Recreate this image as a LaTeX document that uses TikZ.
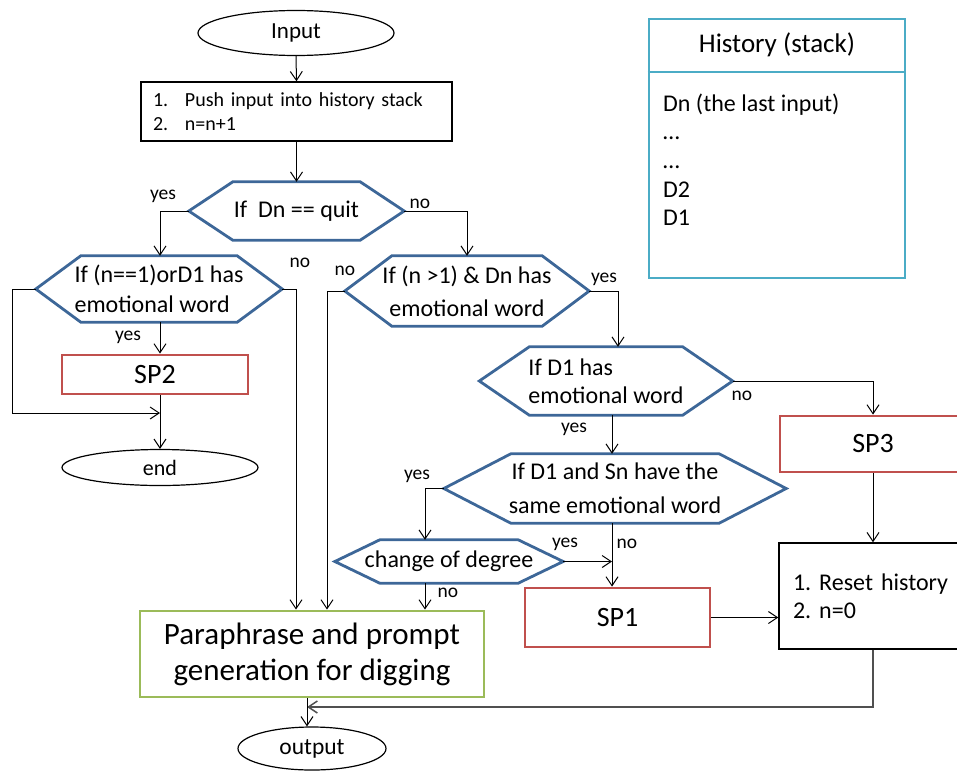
\documentclass[tikz,border=0pt]{standalone}
\usepackage{fontspec}
\setmainfont{Carlito}
\usetikzlibrary{arrows.meta,shapes.geometric}

\definecolor{hexblue}{HTML}{3D6798}
\definecolor{spred}{HTML}{C0504D}
\definecolor{gengreen}{HTML}{9BBB59}
\definecolor{histcyan}{HTML}{4BACC6}
\definecolor{retgray}{HTML}{505050}

\frenchspacing
\newcommand\myfs[2]{\fontsize{#1}{#2}\selectfont}
% hexagonal outline around a rectangular node; #2 is the slant inset
\newcommand\hexframe[2]{%
  \draw[hexline] (#1.west) -- ([xshift=#2]#1.north west) -- ([xshift=-#2]#1.north east)
    -- (#1.east) -- ([xshift=-#2]#1.south east) -- ([xshift=#2]#1.south west) -- cycle;}

\begin{document}
\begin{tikzpicture}[x=1pt,y=-1pt,
  every node/.style={inner sep=0pt},
  conn/.style={line width=1pt, black},
  arr/.style={conn, -{Straight Barb[length=9pt,width=12pt]}},
  hexline/.style={draw=hexblue, line width=2.8pt, line join=miter},
  hexshape/.style={rectangle, font=\myfs{24}{29}},
  termnode/.style={ellipse, draw, line width=1.2pt, font=\myfs{23}{28}},
  plainbox/.style={rectangle, draw, line width=1.4pt},
  spbox/.style={rectangle, draw=spred, line width=2.8pt, font=\myfs{28}{34}},
  lbl/.style={font=\myfs{19.5}{23}, anchor=base},
]
\clip (0,0) rectangle (957,771);

% ---- main column ----
\node[termnode, minimum width=196pt, minimum height=45pt] (inp) at (296,33) {Input};
\node[plainbox, minimum width=311pt, minimum height=59pt, text width=287pt, align=left,
      font=\myfs{20}{24}] (push) at (296.5,111.5)
  {\makebox[32pt][l]{1.}Push input into history stack\\\makebox[32pt][l]{2.}n=n+1};

\node[hexshape, minimum width=215pt, minimum height=58pt] (h1) at (296.5,211) {If\ \ Dn == quit};
\node[hexshape, minimum width=246pt, minimum height=66pt, align=left, font=\myfs{24}{30}] (h2) at (159,289)
  {If (n==1)orD1 has\\emotional word};
\node[hexshape, minimum width=244pt, minimum height=70pt, align=center, font=\myfs{24}{33}] (h3) at (467,291)
  {If (n >1) \& Dn has\\emotional word};
\node[hexshape, minimum width=253pt, minimum height=68pt, align=left, font=\myfs{24}{28}] (h4) at (606,381)
  {If D1 has\\emotional word};
\node[hexshape, minimum width=342pt, minimum height=69pt, align=center, font=\myfs{24}{34}] (h5) at (615,488.5)
  {If D1 and Sn have the\\same emotional word};
\node[hexshape, minimum width=228pt, minimum height=43pt] (h6) at (449,561.5) {change of degree};

\hexframe{h1}{44pt}
\hexframe{h2}{45pt}
\hexframe{h3}{47pt}
\hexframe{h4}{50pt}
\hexframe{h5}{67pt}
\hexframe{h6}{45pt}

\node[spbox, minimum width=186pt, minimum height=39pt] (sp2) at (155,374.5) {SP2};
\node[termnode, minimum width=196pt, minimum height=36pt, font=\myfs{22}{26}] (endn) at (160,467.5) {end};

\node[spbox, minimum width=186pt, minimum height=56pt] (sp3) at (873,444) {SP3};
\node[plainbox, minimum width=188pt, minimum height=106pt, text width=160pt, align=left,
      font=\myfs{24}{28}] (reset) at (873,596) {1. Reset history\\2. n=0};
\node[spbox, minimum width=185pt, minimum height=59pt] (sp1) at (617.5,617.5) {SP1};

\node[rectangle, draw=gengreen, line width=2.8pt, minimum width=344pt, minimum height=86pt,
      align=center, font=\myfs{31}{36}] (gen) at (312,654)
  {Paraphrase and prompt\\generation for digging};
\node[termnode, minimum width=148pt, minimum height=43pt, font=\myfs{23.5}{28}] (outp) at (312,748.5) {output};

% ---- history stack ----
\node[rectangle, draw=histcyan, line width=2.6pt, minimum width=256pt, minimum height=259pt] (hist) at (777,148.5) {};
\node[font=\myfs{27}{32}] (htitle) at (777,45) {History (stack)};
\coordinate (hdiv) at (0,72);
\draw[histcyan, line width=1.4pt] (hist.west |- hdiv) -- (hist.east |- hdiv);
\foreach \t [count=\i] in {Dn (the last input), …, …, D2, D1}
  \node[font=\myfs{24}{29}, anchor=base west] (item\i) at (663,{111+28.7*(\i-1)}) {\t};

% ---- connector columns ----
\coordinate (yesL) at (160,0);
\coordinate (loopL) at (12,0);
\coordinate (joinL) at (160,413);
\coordinate (dropA) at (296,0);
\coordinate (dropB) at (327,0);
\coordinate (yesR) at (618,0);
\coordinate (colM) at (612,0);
\coordinate (colY) at (425,0);
\coordinate (colR) at (873,0);
\coordinate (colO) at (307,0);
\coordinate (retY) at (0,707);

% ---- connectors ----
\draw[arr] (inp.south) -- (push.north);
\draw[arr] (push.south) -- (h1.north);
\draw[arr] (h1.west) -| (yesL |- h2.north);
\draw[arr] (h1.east) -| (h3.north);
\draw[arr] (h2.south -| yesL) -- (sp2.north -| yesL);
\draw[arr] (h2.west) -- (loopL |- h2.west) |- (joinL);
\draw[arr] (sp2.south -| yesL) -- (endn.north);
\draw[arr] (h2.east) -| (dropA |- gen.north);
\draw[arr] (h3.west) -| (dropB |- gen.north);
\draw[arr] (h3.east) -| (yesR |- h4.north);
\draw[arr] (h4.east) -| (colR |- sp3.north);
\draw[arr] (h4.south -| colM) -- (h5.north -| colM);
\draw[arr] (h5.west) -| (colY |- h6.north);
\draw[arr] (h5.south -| colM) -- (sp1.north -| colM);
\draw[arr] (h6.east) -- (colM |- h6.east);
\draw[arr] (h6.south -| colY) -- (gen.north -| colY);
\draw[arr] (sp1.east) -- (reset.west |- sp1.east);
\draw[arr] (sp3.south -| colR) -- (reset.north -| colR);
\draw[arr, draw=retgray, line width=1.5pt] (reset.south -| colR) |- (colO |- retY);
\draw[arr] (gen.south -| colO) -- (outp.north -| colO);

% ---- branch labels ----
\node[lbl] (l1) at (163,199) {yes};
\node[lbl] (l2) at (420,208) {no};
\node[lbl] (l3) at (128,340) {yes};
\node[lbl] (l4) at (300,267) {no};
\node[lbl] (l5) at (345,275) {no};
\node[lbl] (l6) at (604,282) {yes};
\node[lbl] (l7) at (742,400) {no};
\node[lbl] (l8) at (574,432) {yes};
\node[lbl] (l9) at (417,479) {yes};
\node[lbl] (l10) at (565,547) {yes};
\node[lbl] (l11) at (627,548) {no};
\node[lbl] (l12) at (448,597) {no};
\end{tikzpicture}
\end{document}
